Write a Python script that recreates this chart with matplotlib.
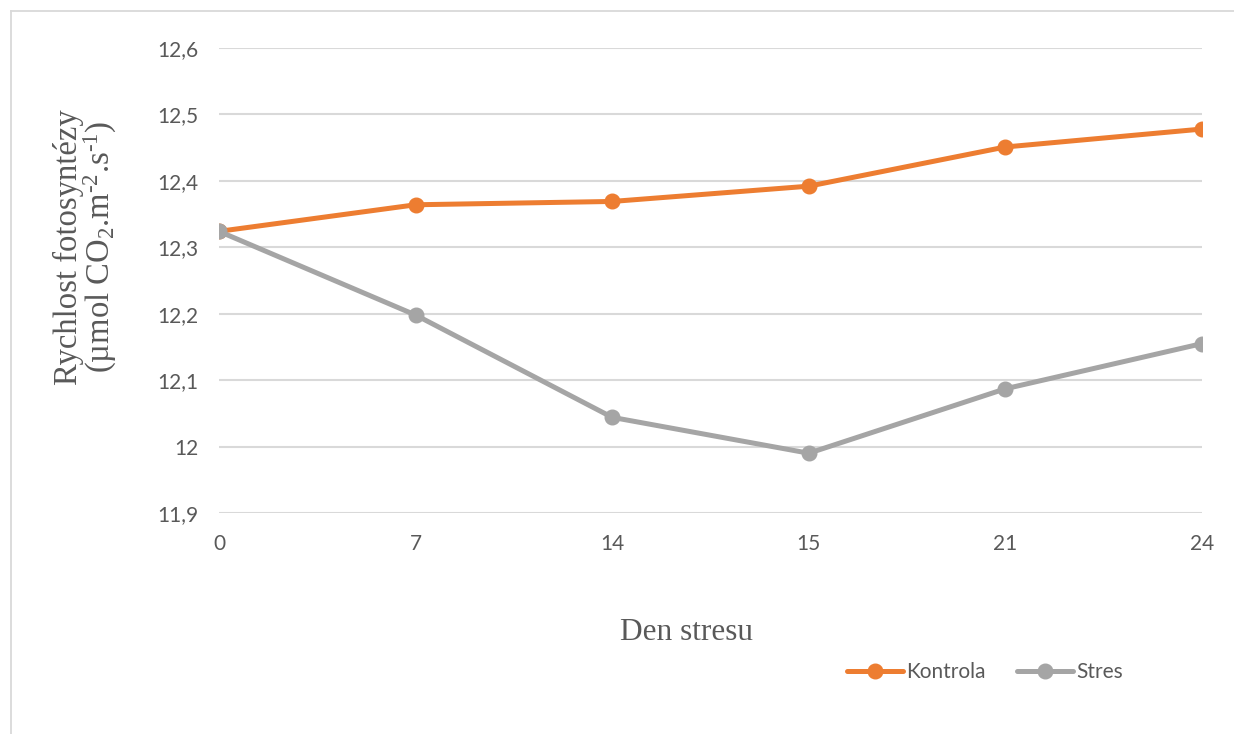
import numpy as np
import matplotlib
matplotlib.use('Agg')
import matplotlib.pyplot as plt
from matplotlib.lines import Line2D
from matplotlib.ticker import FuncFormatter

# data
days = ['0', '7', '14', '15', '21', '24']
kontrola = [12.324, 12.364, 12.369, 12.392, 12.451, 12.478]
stres = [12.324, 12.198, 12.044, 11.990, 12.087, 12.155]
yticks = [11.9, 12.0, 12.1, 12.2, 12.3, 12.4, 12.5, 12.6]

orange = '#ED7D31'
gray = '#A5A5A5'
txt = '#595959'
grid = '#D9D9D9'

plt.rcParams['mathtext.fontset'] = 'custom'
plt.rcParams['mathtext.rm'] = 'Liberation Serif'
plt.rcParams['mathtext.it'] = 'Liberation Serif'

W, H = 1234, 734
fig = plt.figure(figsize=(W / 100, H / 100), dpi=100)
ax = fig.add_axes([219 / W, 1 - 513 / H, (1202 - 219) / W, (513 - 48) / H])

x = np.arange(len(days))
ax.plot(x, kontrola, color=orange, lw=3.6, marker='o', ms=10.5, label='Kontrola',
        solid_capstyle='round', zorder=3)
ax.plot(x, stres, color=gray, lw=3.6, marker='o', ms=10.5, label='Stres',
        solid_capstyle='round', zorder=4)

ax.set_xlim(0, len(days) - 1)
ax.set_ylim(11.9, 12.6)
ax.set_yticks(yticks)
ax.set_xticks(x)
ax.set_xticklabels(days)
ax.yaxis.set_major_formatter(FuncFormatter(lambda v, p: ('%g' % round(v, 1)).replace('.', ',')))
ax.grid(axis='y', color=grid, lw=1.5)
ax.set_axisbelow(True)
for s in ax.spines.values():
    s.set_visible(False)
ax.tick_params(length=0, labelsize=15, labelcolor=txt, pad=15)
for lab in ax.get_xticklabels() + ax.get_yticklabels():
    lab.set_family('Lato')

fig.text(86 / W, 1 - 247 / H,
         'Rychlost fotosyntézy\n(µmol CO$_2$.m$^{\\text{-2}}$.s$^{\\text{-1}}$)',
         rotation=90, ha='center', va='center', fontsize=23.5, color=txt,
         family='Liberation Serif', linespacing=0.95)
fig.text(686 / W, 1 - 632 / H, 'Den stresu', ha='center', va='center',
         fontsize=22.5, color=txt, family='Liberation Serif')

leg = fig.legend(loc='center', bbox_to_anchor=(985 / W, 1 - 672 / H), ncol=2,
                 frameon=False, handlelength=2.7, handletextpad=0.15,
                 columnspacing=1.5, prop={'family': 'Lato', 'size': 15})
for t in leg.get_texts():
    t.set_color(txt)

# chart area border (clipped at right and bottom)
fig.add_artist(Line2D([11 / W, 1], [1 - 11 / H, 1 - 11 / H], color=grid, lw=1.3))
fig.add_artist(Line2D([11 / W, 11 / W], [1 - 11 / H, 0], color=grid, lw=1.3))

fig.savefig('out.png', dpi=100, facecolor='white')
